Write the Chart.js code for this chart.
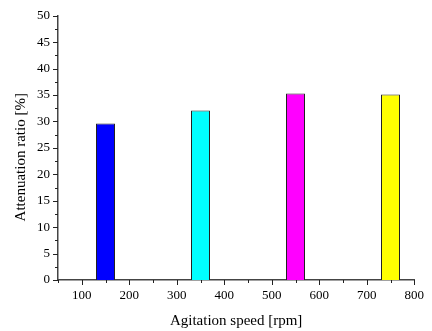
<!DOCTYPE html>
<html>
<head>
<meta charset="utf-8">
<script src="https://cdn.jsdelivr.net/npm/chart.js@4/dist/chart.umd.min.js"></script>
<style>
  html, body { margin: 0; padding: 0; background: #fff; }
  #wrap { width: 432px; height: 331px; position: relative; }
</style>
</head>
<body>
<div id="wrap"><canvas id="c"></canvas></div>
<script>
const speeds = [150, 350, 550, 750];
const attenuation = [29.6, 32.1, 35.3, 35.1];
const barColors = ['#0000ff', '#00ffff', '#ff00ff', '#ffff00'];
const xTickValues = [100, 200, 300, 400, 500, 600, 700, 800];
const yTickValues = [0, 5, 10, 15, 20, 25, 30, 35, 40, 45, 50];

const FONT = "'Liberation Serif', 'Times New Roman', serif";

const minorTicks = {
  id: 'minorTicks',
  afterDraw(chart) {
    const ctx = chart.ctx;
    const xs = chart.scales.x, ys = chart.scales.y;
    const area = chart.chartArea;
    ctx.save();
    ctx.strokeStyle = '#222';
    ctx.lineWidth = 1;
    for (let v = 50; v <= 800; v += 50) {
      const major = v % 100 === 0;
      const px = Math.round(xs.getPixelForValue(v)) + 0.5;
      ctx.beginPath();
      ctx.moveTo(px, area.bottom);
      ctx.lineTo(px, area.bottom + (major ? 5 : 3));
      ctx.stroke();
    }
    for (let v = 0; v <= 50; v += 2.5) {
      const major = v % 5 === 0;
      const py = Math.round(ys.getPixelForValue(v)) + 0.5;
      ctx.beginPath();
      ctx.moveTo(area.left, py);
      ctx.lineTo(area.left - (major ? 5 : 3), py);
      ctx.stroke();
    }
    ctx.restore();
  }
};

new Chart(document.getElementById('c'), {
  type: 'bar',
  data: {
    datasets: [{
      data: speeds.map((s, i) => ({ x: s, y: attenuation[i] })),
      backgroundColor: barColors,
      borderColor: '#222',
      borderWidth: 1,
      barPercentage: 0.8,
      categoryPercentage: 1
    }]
  },
  options: {
    responsive: true,
    maintainAspectRatio: false,
    animation: false,
    layout: { padding: { top: 15, right: 15, left: 0, bottom: 0 } },
    plugins: { legend: { display: false }, tooltip: { enabled: false } },
    scales: {
      x: {
        type: 'linear',
        offset: false,
        min: 50, max: 800,
        afterFit(scale) { scale.height = 51; },
        afterBuildTicks(scale) {
          const t = [];
          for (let v = 50; v <= 800; v += 50) t.push({ value: v });
          scale.ticks = t;
        },
        grid: { display: false, drawTicks: false, offset: false },
        border: { display: true, color: '#444', width: 1.5 },
        ticks: {
          autoSkip: false, maxRotation: 0, padding: 8, color: '#000',
          font: { family: FONT, size: 13 },
          callback: (v) => xTickValues.includes(v) ? String(v) : ''
        },
        title: {
          display: true, text: 'Agitation speed [rpm]', color: '#000',
          font: { family: FONT, size: 15 }, padding: { top: 0, bottom: 0.5 }
        }
      },
      y: {
        min: 0, max: 50,
        afterFit(scale) { scale.width = 58; },
        afterBuildTicks(scale) { scale.ticks = yTickValues.map(v => ({ value: v })); },
        grid: { display: false, drawTicks: false },
        border: { display: true, color: '#444', width: 1.5 },
        ticks: {
          padding: 8, color: '#000',
          font: { family: FONT, size: 13 }
        },
        title: {
          display: true, text: 'Attenuation ratio [%]\u00A0\u00A0\u00A0\u00A0\u00A0', color: '#000',
          font: { family: FONT, size: 15 }, padding: { top: 12.5, bottom: 0 }
        }
      }
    }
  },
  plugins: [minorTicks]
});
</script>
</body>
</html>
